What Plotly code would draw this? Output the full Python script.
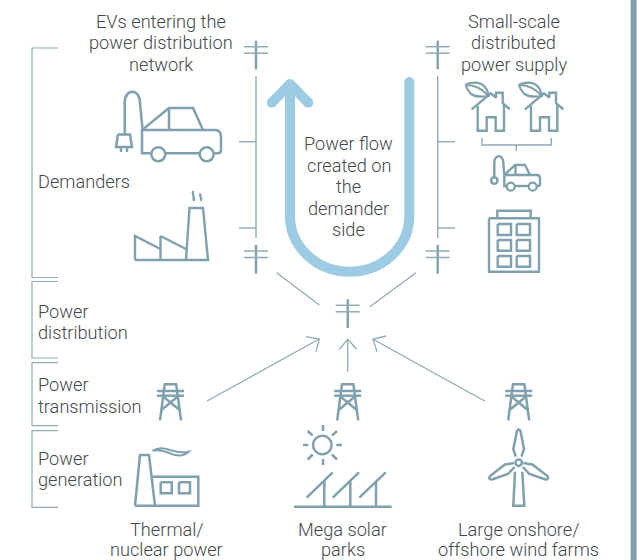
import plotly.graph_objects as go

STROKE = "#7fa1ad"
THIN = "#8eabb7"
BLUE = "#9ccbe3"
TEXT = "#43484b"
FONT = "Roboto"
FONT_SIZE = 18.2
FONT_WEIGHT = 300
LINE_STEP = 21.5
FOOT_STEP = 20

# ---------- text labels: (x, y of block centre, lines, anchor, line step) ----------
LABELS = [
    (161.3, 42.8, ["EVs entering the", "power distribution", "network"], "center", LINE_STEP),
    (513.7, 42.8, ["Small-scale", "distributed", "power supply"], "center", LINE_STEP),
    (348.7, 186.8, ["Power flow", "created on", "the", "demander", "side"], "center", LINE_STEP),
    (35.5, 181.3, ["Demanders"], "left", LINE_STEP),
    (35.5, 321.8, ["Power", "distribution"], "left", LINE_STEP),
    (35.5, 395.3, ["Power", "transmission"], "left", LINE_STEP),
    (35.5, 468.8, ["Power", "generation"], "left", LINE_STEP),
    (166.7, 539, ["Thermal/", "nuclear power"], "center", FOOT_STEP),
    (342.5, 539, ["Mega solar", "parks"], "center", FOOT_STEP),
    (518.7, 539, ["Large onshore/", "offshore wind farms"], "center", FOOT_STEP),
]

# ---------- diagram geometry, in picture units ----------
BRACKETS = [
    [(58, 48), (32, 48), (32, 277.5), (58, 277.5)],
    [(58, 281.5), (32, 281.5), (32, 358), (58, 358)],
    [(58, 362.7), (32, 362.7), (32, 425.7), (58, 425.7)],
    [(58, 430.7), (32, 430.7), (32, 507.3), (58, 507.3)],
]
FEEDERS = [
    [(256, 76), (256, 238)], [(239, 141.7), (256, 141.7)], [(239, 228), (256, 228)],
    [(437.7, 76), (437.7, 238)], [(437.7, 141.7), (455, 141.7)], [(437.7, 228), (455, 228)],
    [(482, 138), (482, 145), (551.3, 145), (551.3, 138)], [(516.3, 145), (516.3, 151)],
]
ARROWS = [
    [(207, 401), (319.3, 339)], [(306, 336.7), (319.3, 339), (316, 351.7)],
    [(347.7, 371.7), (347.7, 339.3)], [(339.3, 349.3), (347.7, 339.3), (356.7, 349.3)],
    [(484.7, 401), (373, 339.3)], [(386, 336), (373, 339.3), (377, 351.7)],
    [(276.7, 272.7), (319.3, 305)], [(416, 272.7), (369.7, 306.7)],
]
POLE_POSITIONS = [(256, 40.7), (437.7, 40.7), (256, 245), (437.7, 245), (347.7, 299.3)]
POLE_SHAFT = [[(0, 0), (0, 28.7)]]
POLE_BARS = [[(-12, 6), (12, 6)], [(-12, 12.5), (12, 12.5)]]
TOWER_POSITIONS = [170.5, 347.7, 518.7]
TOWER = [
    [(-10.5, 37), (-5.7, 1), (5.7, 1), (10.5, 37)],
    [(-13.5, 7.7), (13.5, 7.7)], [(-13.5, 12.4), (13.5, 12.4)],
    [(-7, 13.4), (9.1, 26.7)], [(7, 13.4), (-9.1, 26.7)],
]
BIG_CAR = [
    [(142, 130), (215, 130)],
    [(150.5, 153.3), (142, 153.3), (142, 130), (169, 108), (193, 108), (203, 130)],
    [(169, 108), (169, 130)], [(165.8, 153.3), (199.2, 153.3)],
    [(118, 134.5), (130, 134.5), (132, 147), (116, 147), (118, 134.5)],
    [(121, 147), (121, 152)], [(127, 147), (127, 152)],
]
BIG_CAR_CURVES = [
    "M 215 130 C 219 130 221 133 221 137 L 221 150 C 221 152 220 153.3 218 153.3 L 214.2 153.3",
    "M 142.5 129 L 140 103 C 140 88 124.7 88 124.7 103 L 124.7 134.5",
]
FACTORY = [
    [(135, 260), (135, 236), (160.5, 249)], [(160.5, 236), (186, 249)],
    [(160.5, 236), (160.5, 260)],
    [(135, 260), (208, 260), (203, 208), (189.5, 208), (186, 260)],
]
SMOKE_CURVES = [
    "M 193.3 191 C 191 195 196 197 193.3 201",
    "M 200.7 193.7 C 198.5 196 203 198 200.7 201",
]
HOUSE_OFFSETS = [0, 53.3]
HOUSE = [
    [(471.7, 109.3), (490.7, 93.3), (496, 97.7), (496, 92.7), (502.7, 92.7), (502.7, 103.3), (510, 109.3)],
    [(477.7, 105.7), (477.7, 130.7), (486.7, 130.7), (486.7, 117.3), (495.7, 117.3), (495.7, 130.7), (504, 130.7), (504, 104.3)],
]
LEAF_CURVES = [
    "M 465.5 84.5 Q 478 80 484 86 Q 488 90 488.5 96 Q 477 98 471 94 Q 467 90 465.5 84.5",
    "M 466.5 85 Q 479 85 488.5 96",
]
SMALL_CAR = [
    [(504.3, 175), (537, 175)],
    [(506.5, 186), (504.3, 186), (504.3, 175), (515, 165), (525, 165), (530, 175)],
    [(515.5, 165), (515.5, 175)], [(514.8, 186), (528.5, 186)],
]
SMALL_CAR_CURVES = [
    "M 537 175 C 539 175 540 177 540 179 L 540 184 C 540 185.5 539 186 538 186 L 536.9 186",
    "M 504.3 175 L 503.3 163 C 503.3 154 494.3 154 494.3 163 L 494.3 177",
]
BUILDING = [
    [(489, 218.3), (539, 218.3), (539, 271.7), (489, 271.7), (489, 218.3)],
    [(497.3, 218.3), (497.3, 210.7), (530.7, 210.7), (530.7, 218.3)],
]
WINDOW_COLS = [(497.7, 511), (516.7, 530)]
WINDOW_ROWS = [(224, 235), (240, 250.7), (256, 266.7)]
THERMAL = [
    [(135, 505.7), (140, 455), (149, 455), (155, 505.7)],
    [(152.3, 476.7), (198.3, 476.7), (198.3, 505.7), (135, 505.7)],
    [(160.7, 482.3), (171.7, 482.3), (171.7, 493.3), (160.7, 493.3), (160.7, 482.3)],
    [(179, 482.3), (190, 482.3), (190, 493.3), (179, 493.3), (179, 482.3)],
]
THERMAL_SMOKE = ["M 152.7 450.7 Q 160 446 170 450 Q 180 453.3 188.7 451.7 Q 181.7 458.3 170 453.3 Q 160 449.3 152.7 450.7 Z"]
SOLAR = [
    [(294, 506.7), (391.7, 506.7)],
    [(306.7, 497.7), (332.7, 472.3)], [(332.7, 497.7), (359, 472.3)], [(359.3, 497.7), (385.7, 472.3)],
    [(324.3, 480.5), (324.3, 506.7)], [(350.3, 480.5), (350.3, 506.7)], [(376, 481), (376, 506.7)],
]
SUN_CENTER = (322.3, 445)
SUN_RADIUS = 9.3
SUN_RAYS = [
    [(323, 425), (323, 431)], [(323, 459), (323, 465)],
    [(303, 445), (308.3, 445)], [(336.3, 445), (342, 445)],
    [(307.7, 431), (312.7, 435.7)], [(332, 454.5), (337, 459.5)],
    [(337, 431), (332, 435.7)], [(312.7, 454.5), (307.7, 459.5)],
]
WIND_CURVES = [
    "M 515.7 456.7 L 513.3 449 L 517 431 Q 518.7 428 520.5 431 L 524 449 L 521.5 456.7",
    "M 514 463 L 505 464.5 L 490 476 Q 488 479.5 492 479.5 L 508 474 L 514.5 467",
    "M 523.4 463 L 532.4 464.5 L 547.4 476 Q 549.4 479.5 545.4 479.5 L 529.4 474 L 522.9 467",
    "M 515 471.7 L 513.3 505.7 L 524.3 505.7 L 522.3 471.7",
]
HUB = (518.7, 462.7)
PLUG_SMALL = (494.3, 180.5)
WHEELS_BIG = [(158.3, 154.3), (206.7, 154.3)]
WHEELS_SMALL = [(510.7, 186.7), (532.7, 186.7)]

U_FLOW = ["M 409.3 82 L 409.3 216 C 409.3 247 382 271.7 349.7 271.7 C 317 271.7 290 247 290 216 L 290 84"]
ARROW_HEAD = [[(271.7, 102.7), (290, 84)], [(308.3, 102.7), (290, 84)]]
FLOW_CAPS = [(409.3, 82), (290, 84), (271.7, 102.7), (308.3, 102.7)]
RIGHT_BAND = (630.7, 636)
RIGHT_EDGE = (636, 637)

fig = go.Figure()


def polylines(lines, color, width, dx=0, dy=0):
    xs, ys = [], []
    for line in lines:
        xs += [p[0] + dx for p in line] + [None]
        ys += [p[1] + dy for p in line] + [None]
    fig.add_trace(go.Scatter(x=xs, y=ys, mode="lines", hoverinfo="skip",
                             line=dict(color=color, width=width)))


def curve(path, color, width, dx=0):
    if dx:
        parts = path.split()
        out, is_x = [], True
        for tok in parts:
            if tok.isalpha():
                out.append(tok)
                is_x = True
            else:
                out.append(str(float(tok) + dx) if is_x else tok)
                is_x = not is_x
        path = " ".join(out)
    fig.add_shape(type="path", path=path, xref="x", yref="y",
                  line=dict(color=color, width=width))


def circle(c, r, color, width, fill="rgba(0,0,0,0)"):
    fig.add_shape(type="circle", xref="x", yref="y", x0=c[0] - r, x1=c[0] + r,
                  y0=c[1] - r, y1=c[1] + r, fillcolor=fill,
                  line=dict(color=color, width=width))


# big flow arrow
for p in U_FLOW:
    curve(p, BLUE, 10)
polylines(ARROW_HEAD, BLUE, 10)
for c in FLOW_CAPS:
    circle(c, 5, BLUE, 0, BLUE)

# brackets, feeders, arrows
polylines(BRACKETS, THIN, 1.2)
polylines(FEEDERS, THIN, 1.4)
polylines(ARROWS, THIN, 1.3)

# poles
for px, py in POLE_POSITIONS:
    polylines(POLE_SHAFT, STROKE, 2.4, px, py)
    polylines(POLE_BARS, THIN, 1.5, px, py)

# towers
for tx in TOWER_POSITIONS:
    polylines(TOWER, STROKE, 2.5, tx, 383.3)

# icons
polylines(BIG_CAR, STROKE, 2.5)
for p in BIG_CAR_CURVES:
    curve(p, STROKE, 2.5)
for w in WHEELS_BIG:
    circle(w, 7, STROKE, 2.5)
polylines(FACTORY, STROKE, 2.4)
for p in SMOKE_CURVES:
    curve(p, STROKE, 2.4)
for off in HOUSE_OFFSETS:
    polylines(HOUSE, STROKE, 2.4, off)
    for p in LEAF_CURVES:
        curve(p, STROKE, 2.2, off)
polylines(SMALL_CAR, STROKE, 2.4)
for p in SMALL_CAR_CURVES:
    curve(p, STROKE, 2.4)
for w in WHEELS_SMALL:
    circle(w, 4, STROKE, 2.2)
circle(PLUG_SMALL, 3.2, STROKE, 2.6)
polylines(BUILDING, STROKE, 2.4)
for x0, x1 in WINDOW_COLS:
    for y0, y1 in WINDOW_ROWS:
        polylines([[(x0, y0), (x1, y0), (x1, y1), (x0, y1), (x0, y0)]], STROKE, 2.4)
polylines(THERMAL, STROKE, 2.5)
for p in THERMAL_SMOKE:
    curve(p, STROKE, 2)
polylines(SOLAR, STROKE, 2.5)
circle(SUN_CENTER, SUN_RADIUS, STROKE, 2.5)
polylines(SUN_RAYS, STROKE, 2.5)
for p in WIND_CURVES:
    curve(p, STROKE, 2.5)
circle(HUB, 3.2, STROKE, 2.5)

# right band
fig.add_shape(type="rect", xref="x", yref="y", x0=RIGHT_BAND[0], x1=RIGHT_BAND[1], y0=0, y1=560,
              fillcolor="#7ea0ad", line_width=0)
fig.add_shape(type="rect", xref="x", yref="y", x0=RIGHT_EDGE[0], x1=RIGHT_EDGE[1], y0=0, y1=560,
              fillcolor="#a6c9dc", line_width=0)

for x, y, lines, anchor, step in LABELS:
    top = y - step * (len(lines) - 1) / 2
    for i, t in enumerate(lines):
        fig.add_annotation(x=x, y=top + i * step, text=t, xref="x", yref="y", showarrow=False,
                           xanchor=anchor, yanchor="middle", align=anchor,
                           font=dict(family=FONT, size=FONT_SIZE, color=TEXT, weight=FONT_WEIGHT))

fig.update_layout(
    width=637, height=560, autosize=False, showlegend=False,
    margin=dict(l=0, r=0, t=0, b=0),
    paper_bgcolor="white", plot_bgcolor="white",
    xaxis=dict(range=[0, 637], visible=False, fixedrange=True),
    yaxis=dict(range=[560, 0], visible=False, fixedrange=True),
)
fig.write_html("out.html", config={"displayModeBar": False},
               post_script="document.body.style.margin='0';")
